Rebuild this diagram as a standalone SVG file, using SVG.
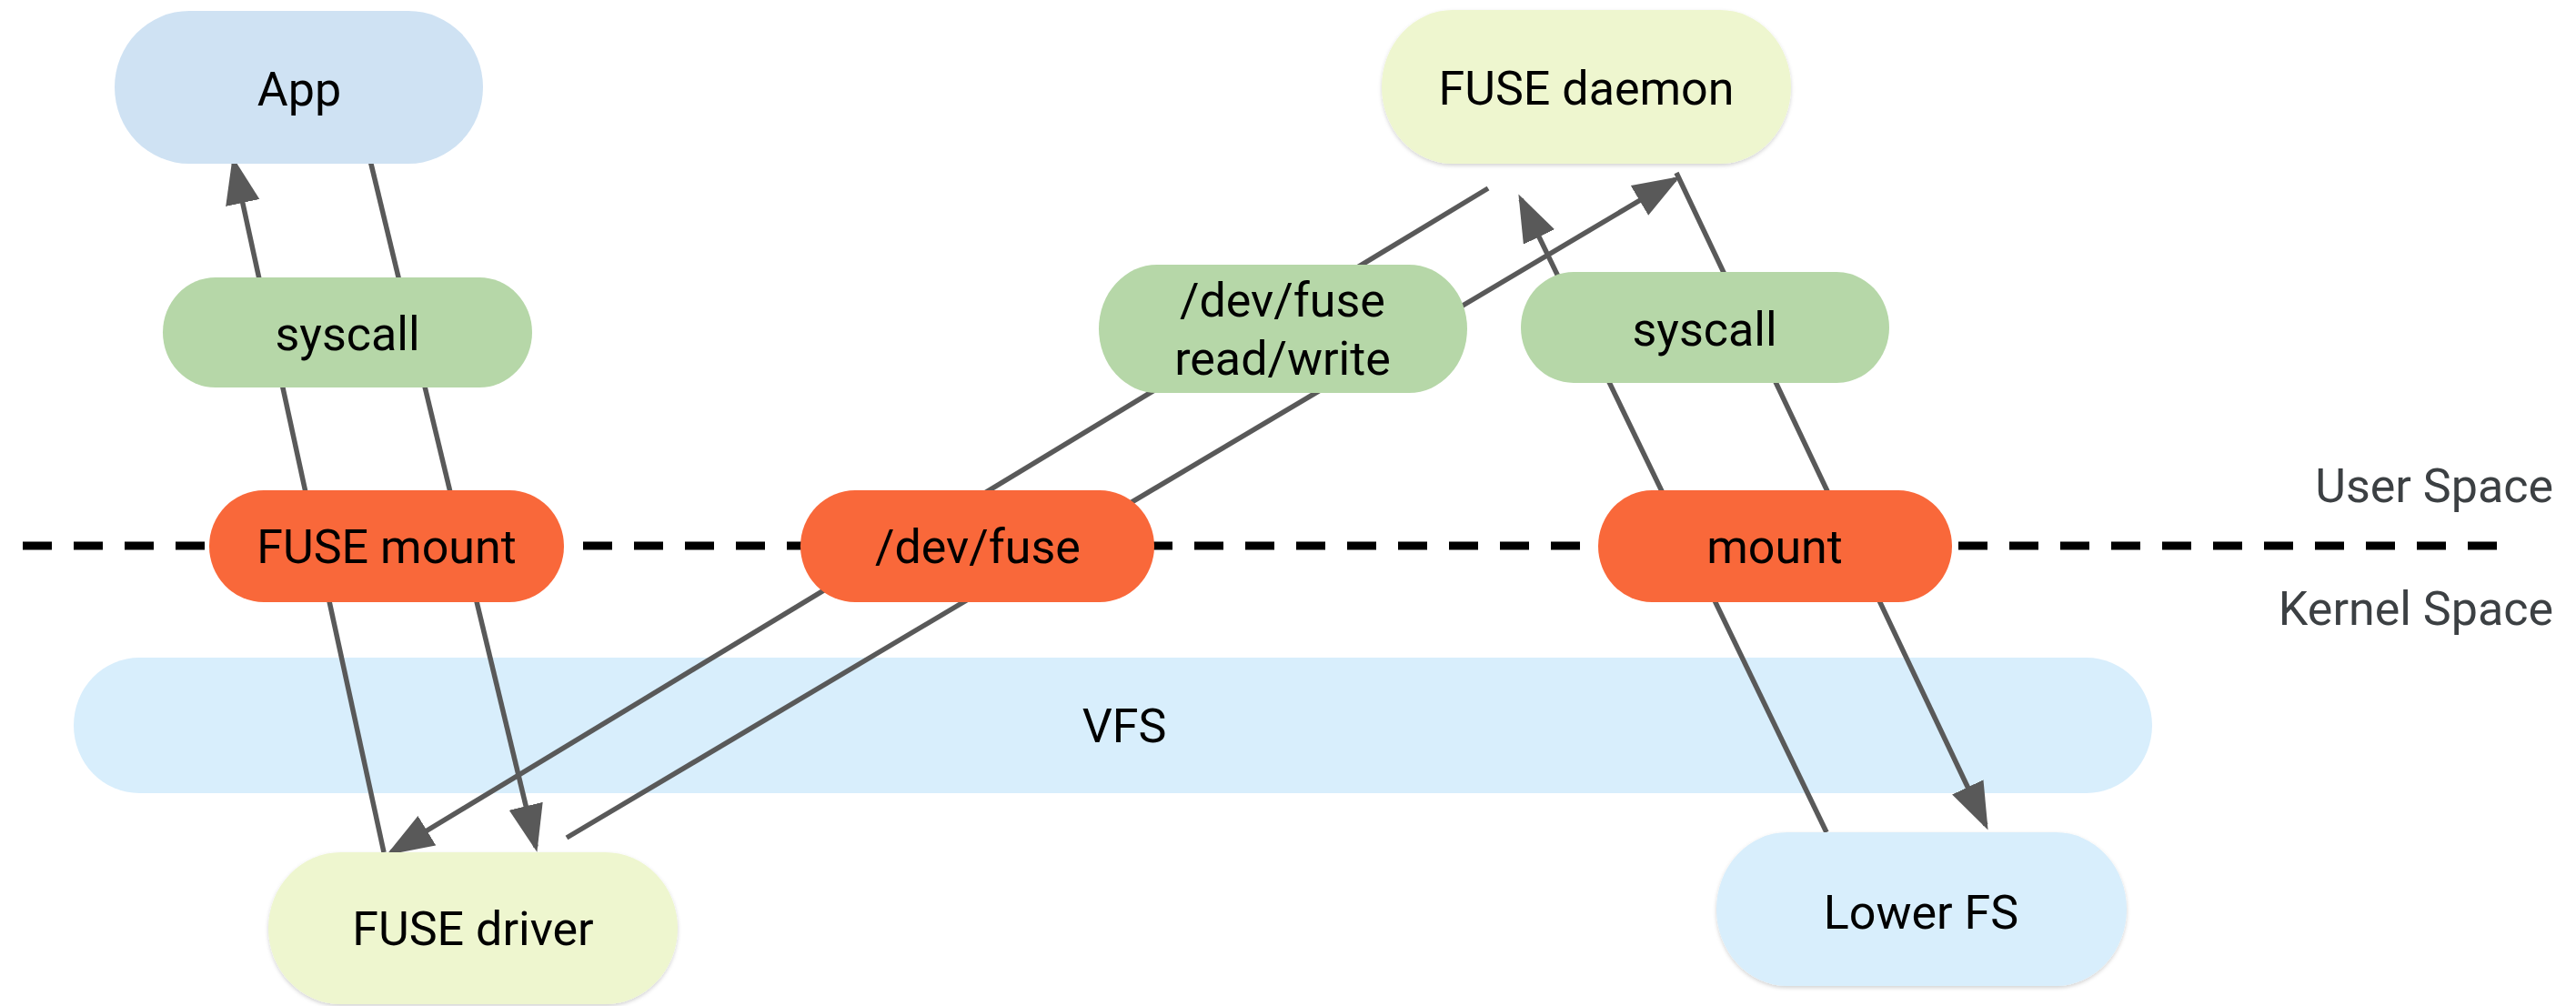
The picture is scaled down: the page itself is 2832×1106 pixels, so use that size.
<svg xmlns="http://www.w3.org/2000/svg" width="2832" height="1106" viewBox="0 0 2832 1106">
<style>
.t{font-family:Roboto,"Liberation Sans",sans-serif;font-size:52px;fill:#000;text-anchor:middle}
.side{font-family:Roboto,"Liberation Sans",sans-serif;font-size:52px;fill:#3c4043;text-anchor:end}
.c{stroke:#595959;stroke-width:5.5;fill:none}
.blue{fill:#cfe2f3}
.green{fill:#b6d7a8}
.orange{fill:#f9683a}
.yellow{fill:#eef6cf}
.lblue{fill:#d8eefc}
</style>
<defs>
<marker id="ah" markerUnits="userSpaceOnUse" markerWidth="54" markerHeight="40" refX="46" refY="19" orient="auto">
<path d="M0,0 L52,19 L0,38 Z" fill="#595959"/>
</marker>
<filter id="sh" x="-10%" y="-10%" width="120%" height="125%">
<feDropShadow dx="0" dy="2" stdDeviation="2" flood-color="#000" flood-opacity="0.18"/>
</filter>
</defs>
<rect width="2832" height="1106" fill="#fff"/>
<g id="vfs"><rect class="lblue" x="81" y="723" width="2285" height="149" rx="72" ry="74.5"/><text class="t" x="1236" y="816">VFS</text></g>
<g id="boundary"><line x1="25" y1="600" x2="2745" y2="600" stroke="#000" stroke-width="9" stroke-dasharray="32 24"/>
<text class="side" x="2807" y="552">User Space</text>
<text class="side" x="2807" y="687">Kernel Space</text></g>
<g id="connectors">
<line class="c" x1="422" y1="937" x2="257" y2="178" marker-end="url(#ah)"/>
<line class="c" x1="406" y1="172" x2="589" y2="931" marker-end="url(#ah)"/>
<line class="c" x1="1636" y1="207" x2="430" y2="937" marker-end="url(#ah)"/>
<line class="c" x1="623" y1="921" x2="1842" y2="197" marker-end="url(#ah)"/>
<line class="c" x1="2008" y1="915" x2="1672" y2="219" marker-end="url(#ah)"/>
<line class="c" x1="1843" y1="190" x2="2183" y2="907" marker-end="url(#ah)"/>
</g>
<g id="app"><rect class="blue" x="126" y="12" width="405" height="168" rx="82" ry="84"/><text class="t" x="329" y="116">App</text></g>
<g id="syscall-left"><rect class="green" x="179" y="305" width="406" height="121" rx="58" ry="60.5"/><text class="t" x="382" y="385">syscall</text></g>
<g id="fuse-mount"><rect class="orange" x="230" y="539" width="390" height="123" rx="60" ry="61.5"/><text class="t" x="425" y="619">FUSE mount</text></g>
<g id="fuse-driver"><rect class="yellow" filter="url(#sh)" x="295" y="937" width="450" height="167" rx="80" ry="83.5"/><text class="t" x="520" y="1039">FUSE driver</text></g>
<g id="dev-fuse"><rect class="orange" x="880" y="539" width="389" height="123" rx="60" ry="61.5"/><text class="t" x="1075" y="619">/dev/fuse</text></g>
<g id="dev-fuse-rw"><rect class="green" x="1208" y="291" width="405" height="141" rx="64" ry="70.5"/><text class="t" x="1410" y="348">/dev/fuse</text><text class="t" x="1410" y="412">read/write</text></g>
<g id="fuse-daemon"><rect class="yellow" filter="url(#sh)" x="1519" y="11" width="450" height="169" rx="78" ry="84.5"/><text class="t" x="1744" y="115">FUSE daemon</text></g>
<g id="syscall-right"><rect class="green" x="1672" y="299" width="405" height="122" rx="58" ry="61"/><text class="t" x="1874" y="380">syscall</text></g>
<g id="mount"><rect class="orange" x="1757" y="539" width="389" height="123" rx="59" ry="61.5"/><text class="t" x="1951" y="619">mount</text></g>
<g id="lower-fs"><rect class="lblue" filter="url(#sh)" x="1887" y="915" width="451" height="169" rx="78" ry="84.5"/><text class="t" x="2112" y="1021">Lower FS</text></g>
</svg>
